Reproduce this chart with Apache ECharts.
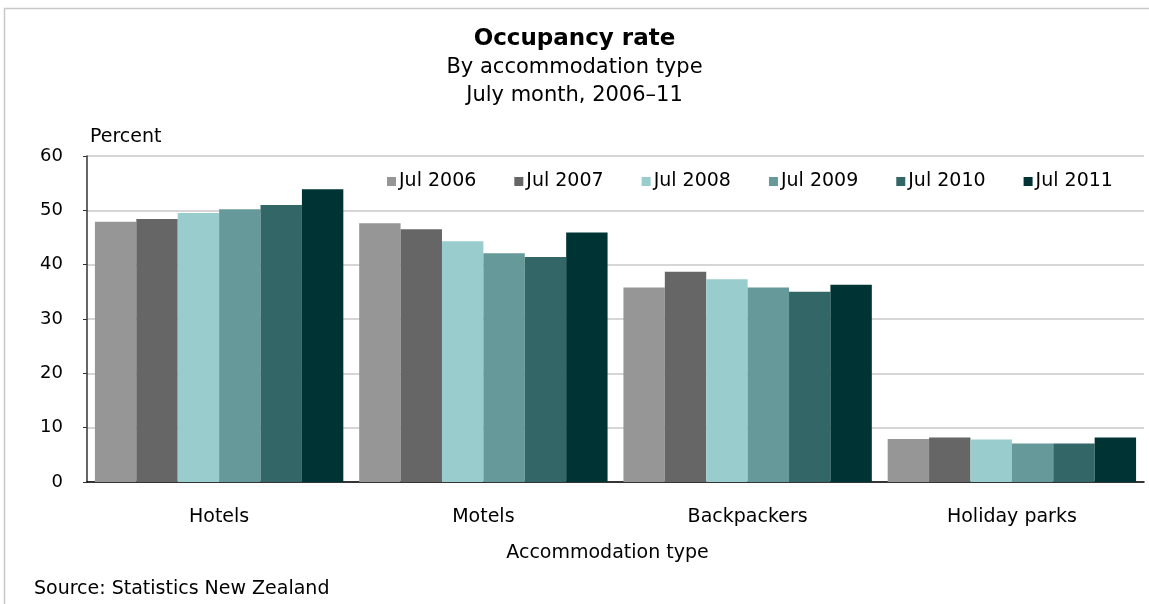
<!DOCTYPE html>
<html>
<head>
<meta charset="utf-8">
<script src="https://cdn.jsdelivr.net/npm/echarts@6/dist/echarts.min.js"></script>
<style>
html, body { margin: 0; padding: 0; background: #fff; }
#chart { width: 1149px; height: 604px; }
</style>
</head>
<body>
<div id="chart"></div>
<script>
var categories = ['Hotels', 'Motels', 'Backpackers', 'Holiday parks'];
var seriesNames = ['Jul 2006', 'Jul 2007', 'Jul 2008', 'Jul 2009', 'Jul 2010', 'Jul 2011'];
var jul2006 = [47.9, 47.6, 35.8, 7.9];
var jul2007 = [48.4, 46.5, 38.7, 8.2];
var jul2008 = [49.5, 44.3, 37.3, 7.8];
var jul2009 = [50.2, 42.1, 35.8, 7.1];
var jul2010 = [51.0, 41.4, 35.0, 7.1];
var jul2011 = [53.9, 45.9, 36.3, 8.2];
var colors = ['#969696', '#666666', '#99cccc', '#669999', '#336666', '#003333'];

var allValues = [jul2006, jul2007, jul2008, jul2009, jul2010, jul2011];
var font = 'DejaVu Sans, Liberation Sans, sans-serif';

var chart = echarts.init(document.getElementById('chart'));

var series = seriesNames.map(function (name, i) {
    return {
        name: name,
        type: 'bar',
        data: allValues[i],
        barGap: '0%',
        barCategoryGap: '6%',
        itemStyle: { color: colors[i] }
    };
});

var option = {
    animation: false,
    color: colors,
    title: [
        {
            text: 'Occupancy rate',
            left: 'center',
            top: 23,
            textStyle: { fontFamily: font, fontSize: 23, fontWeight: 'bold', color: '#000' }
        },
        {
            text: 'By accommodation type',
            left: 'center',
            top: 52,
            textStyle: { fontFamily: font, fontSize: 21, fontWeight: 'normal', color: '#000' }
        },
        {
            text: 'July month, 2006\u201311',
            left: 'center',
            top: 80,
            textStyle: { fontFamily: font, fontSize: 21, fontWeight: 'normal', color: '#000' }
        }
    ],
    legend: {
        data: seriesNames,
        top: 167,
        left: 382,
        itemWidth: 9,
        itemHeight: 9,
        itemGap: 38,
        icon: 'rect',
        textStyle: { fontFamily: font, fontSize: 19, color: '#000', padding: [0, 0, 0, -2] }
    },
    grid: {
        left: 87,
        right: 5,
        top: 156,
        bottom: 122
    },
    xAxis: {
        type: 'category',
        data: categories,
        name: 'Accommodation type',
        nameLocation: 'middle',
        nameGap: 62,
        nameTextStyle: { fontFamily: font, fontSize: 19, color: '#000', padding: [0, 16, 0, 0] },
        axisLine: { lineStyle: { color: '#000', width: 1.5 } },
        axisTick: { show: false },
        axisLabel: { fontFamily: font, fontSize: 19, color: '#000', margin: 26 }
    },
    yAxis: {
        type: 'value',
        min: 0,
        max: 60,
        interval: 10,
        axisLine: { show: true, lineStyle: { color: '#333', width: 1.5 } },
        axisTick: { show: true, length: 4, lineStyle: { color: '#333' } },
        axisLabel: { fontFamily: font, fontSize: 18, color: '#000', margin: 24 },
        splitLine: { lineStyle: { color: '#c8c8c8', width: 1.5 } }
    },
    graphic: [
        {
            type: 'rect',
            shape: { x: 4.5, y: 8.5, width: 1160, height: 620 },
            style: { fill: 'none', stroke: '#c8c8c8', lineWidth: 1.5 },
            silent: true
        },
        {
            type: 'text',
            left: 90,
            top: 128,
            style: { text: 'Percent', font: '19px ' + font, fill: '#000' }
        },
        {
            type: 'text',
            left: 34,
            top: 580,
            style: { text: 'Source: Statistics New Zealand', font: '19px ' + font, fill: '#000' }
        }
    ],
    series: series
};

chart.setOption(option);
</script>
</body>
</html>
